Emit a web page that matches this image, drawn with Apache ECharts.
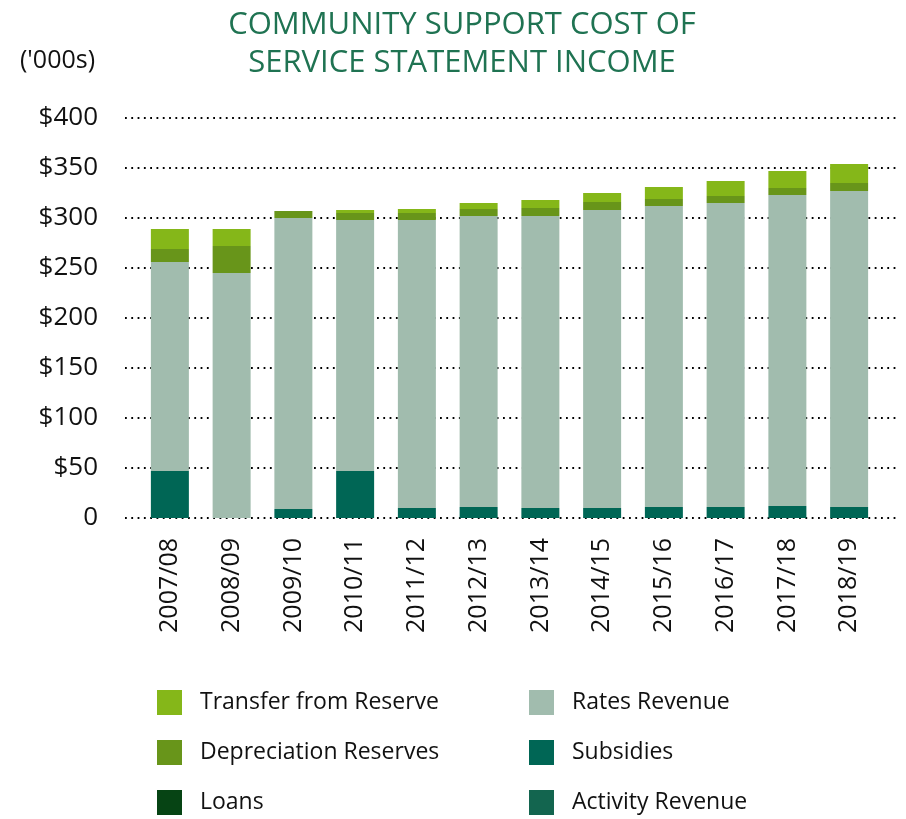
<!DOCTYPE html>
<html>
<head>
<meta charset="utf-8">
<title>Community Support Cost of Service Statement Income</title>
<script src="https://cdn.jsdelivr.net/npm/echarts@6/dist/echarts.min.js"></script>
<style>
  html, body { margin: 0; padding: 0; background: #ffffff; }
  #chart { width: 906px; height: 819px; }
</style>
</head>
<body>
<div id="chart"></div>
<script>
// Financial years
var years = ['2007/08', '2008/09', '2009/10', '2010/11', '2011/12', '2012/13',
             '2013/14', '2014/15', '2015/16', '2016/17', '2017/18', '2018/19'];

// Income sources, $'000s
var loans = [0, 0, 0, 0, 0, 0, 0, 0, 0, 0, 0, 0];
var activityRevenue = [0, 0, 0, 0, 0, 0, 0, 0, 0, 0, 0, 0];
var subsidies = [47, 0, 9, 47, 10, 11, 10, 10, 11, 11, 12, 11];
var ratesRevenue = [209, 245, 291, 251, 288, 291, 292, 298, 301, 304, 311, 316];
var depreciationReserves = [13, 27, 7, 7, 7, 7, 8, 8, 7, 7, 7, 8];
var transferFromReserve = [20, 17, 0, 3, 4, 6, 8, 9, 12, 15, 17, 19];

// Value axis ticks
var yMin = 0, yMax = 400, yStep = 50;

var FONT = '"Open Sans", "Noto Sans", sans-serif';
var TEXT = '#111111';

var colors = {
  transfer: '#85b719',
  depreciation: '#68951a',
  loans: '#064414',
  rates: '#a1bcae',
  subsidies: '#006655',
  activity: '#13654f'
};

function barSeries(name, data, color) {
  return {
    name: name,
    type: 'bar',
    stack: 'income',
    xAxisIndex: 1,
    yAxisIndex: 1,
    barWidth: 38,
    data: data,
    itemStyle: { color: color },
    emphasis: { disabled: true }
  };
}

var chart = echarts.init(document.getElementById('chart'), null, { renderer: 'canvas' });

chart.setOption({
  animation: false,
  backgroundColor: '#ffffff',
  textStyle: { fontFamily: FONT },
  title: [
    {
      text: 'COMMUNITY SUPPORT COST OF\nSERVICE STATEMENT INCOME',
      left: 462,
      top: 6,
      textAlign: 'center',
      padding: 0,
      textStyle: {
        fontFamily: FONT,
        fontSize: 31,
        fontWeight: 'normal',
        lineHeight: 38,
        color: '#1f7352'
      }
    },
    {
      text: "('000s)",
      left: 20,
      top: 48,
      padding: 0,
      textStyle: {
        fontFamily: FONT,
        fontSize: 25,
        fontWeight: 'normal',
        color: TEXT
      }
    }
  ],
  legend: [
    {
      orient: 'vertical',
      left: 157,
      top: 690,
      padding: 0,
      itemWidth: 25,
      itemHeight: 25,
      itemGap: 25,
      icon: 'rect',
      selectedMode: false,
      data: ['Transfer from Reserve', 'Depreciation Reserves', 'Loans'],
      textStyle: { fontFamily: FONT, fontSize: 23, color: TEXT, padding: [3, 0, 0, 13] }
    },
    {
      orient: 'vertical',
      left: 529,
      top: 690,
      padding: 0,
      itemWidth: 25,
      itemHeight: 25,
      itemGap: 25,
      icon: 'rect',
      selectedMode: false,
      data: ['Rates Revenue', 'Subsidies', 'Activity Revenue'],
      textStyle: { fontFamily: FONT, fontSize: 23, color: TEXT, padding: [3, 0, 0, 13] }
    }
  ],
  grid: [
    // wide grid carrying the dotted gridlines and value labels
    { left: 125, right: 9, top: 118, bottom: 301, containLabel: false },
    // plot grid for the bars
    { left: 139, right: 26, top: 118, bottom: 301, containLabel: false }
  ],
  xAxis: [
    {
      gridIndex: 0,
      type: 'category',
      data: years,
      show: false
    },
    {
      gridIndex: 1,
      type: 'category',
      data: years,
      axisLine: { show: false },
      axisTick: { show: false },
      splitLine: { show: false },
      axisLabel: {
        rotate: 90,
        margin: 20,
        interval: 0,
        fontFamily: FONT,
        fontSize: 25,
        color: TEXT
      }
    }
  ],
  yAxis: [
    {
      gridIndex: 0,
      type: 'value',
      min: yMin,
      max: yMax,
      interval: yStep,
      axisLine: { show: false },
      axisTick: { show: false },
      axisLabel: {
        margin: 27,
        fontFamily: FONT,
        fontSize: 26,
        color: TEXT,
        formatter: function (v) { return v === 0 ? '0' : '$' + v; }
      },
      splitLine: {
        show: true,
        lineStyle: { color: '#000000', width: 1.8, type: [1.8, 4.5] }
      }
    },
    {
      gridIndex: 1,
      type: 'value',
      min: yMin,
      max: yMax,
      interval: yStep,
      show: false,
      splitLine: { show: false }
    }
  ],
  series: [
    barSeries('Loans', loans, colors.loans),
    barSeries('Activity Revenue', activityRevenue, colors.activity),
    barSeries('Subsidies', subsidies, colors.subsidies),
    barSeries('Rates Revenue', ratesRevenue, colors.rates),
    barSeries('Depreciation Reserves', depreciationReserves, colors.depreciation),
    barSeries('Transfer from Reserve', transferFromReserve, colors.transfer)
  ]
});
</script>
</body>
</html>
